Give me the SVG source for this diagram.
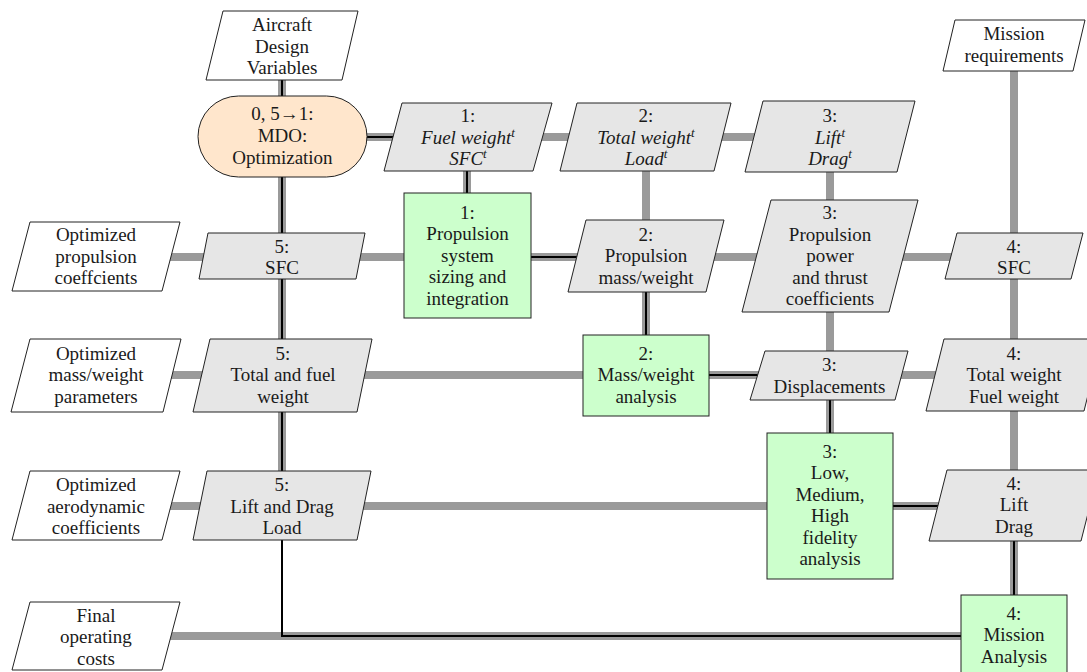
<svg xmlns="http://www.w3.org/2000/svg" width="1087" height="672" viewBox="0 0 1087 672">
<rect width="1087" height="672" fill="#fff"/>
<g id="connectors" fill="none">
<g id="data" stroke="#9a9a9a" stroke-width="8">
<path d="M282,137H830"/>
<path d="M96,257H1014"/>
<path d="M96,375H1014"/>
<path d="M96,506H1014"/>
<path d="M96,636H1014"/>
<path d="M282,45V506"/>
<path d="M467,137V257"/>
<path d="M646,137V375"/>
<path d="M830,137V506"/>
<path d="M1014,45V636"/>
</g>
<g id="process" stroke="#000" stroke-width="2">
<path d="M282,45V636H1014V506H830V375H646V257H467V137H282"/>
</g>
</g>
<g id="nodes" font-family="Liberation Serif" font-size="19" fill="#1a1a1a" text-anchor="middle">
<g id="n-aircraft"><polygon fill="#fff" stroke="#222" points="223,11 358,11 342,80 206,80"/><text x="282" y="31">Aircraft</text><text x="282" y="52.5">Design</text><text x="282" y="74">Variables</text></g>
<g id="n-mission-req"><polygon fill="#fff" stroke="#222" points="955,20 1085,20 1073,71 943,71"/><text x="1014" y="40">Mission</text><text x="1014" y="61.5">requirements</text></g>
<g id="n-mdo"><rect fill="#ffe6cc" stroke="#222" x="198" y="96" width="169" height="81" rx="40.5" ry="40.5"/><text x="282.5" y="120">0, 5→1:</text><text x="282.5" y="142">MDO:</text><text x="282.5" y="163.5">Optimization</text></g>
<g id="n-fuel-t"><polygon fill="#e6e6e6" stroke="#222" points="402,103 552,103 533,171 384,171"/><text x="468" y="122">1:</text><text font-style="italic" x="468" y="143.5">Fuel weight<tspan font-size="13" dy="-7">t</tspan></text><text font-style="italic" x="468" y="165">SFC<tspan font-size="13" dy="-7">t</tspan></text></g>
<g id="n-total-t"><polygon fill="#e6e6e6" stroke="#222" points="577,103 731,103 714,171 560,171"/><text x="646" y="122">2:</text><text font-style="italic" x="646" y="143.5">Total weight<tspan font-size="13" dy="-7">t</tspan></text><text font-style="italic" x="646" y="165">Load<tspan font-size="13" dy="-7">t</tspan></text></g>
<g id="n-lift-t"><polygon fill="#e6e6e6" stroke="#222" points="763,101 915,101 897,172 745,172"/><text x="830" y="122">3:</text><text font-style="italic" x="830" y="143.5">Lift<tspan font-size="13" dy="-7">t</tspan></text><text font-style="italic" x="830" y="165">Drag<tspan font-size="13" dy="-7">t</tspan></text></g>
<g id="n-opt-prop"><polygon fill="#fff" stroke="#222" points="30,222 180,222 162,291 12,291"/><text x="96" y="241">Optimized</text><text x="96" y="262.5">propulsion</text><text x="96" y="284">coeffcients</text></g>
<g id="n-sfc5"><polygon fill="#e6e6e6" stroke="#222" points="208,233 365,233 356,279 199,279"/><text x="282" y="252.5">5:</text><text x="282" y="274">SFC</text></g>
<g id="n-prop-sys"><rect fill="#ccffcc" stroke="#222" x="404" y="193" width="127" height="125"/><text x="467.5" y="218.5">1:</text><text x="467.5" y="240">Propulsion</text><text x="467.5" y="261.5">system</text><text x="467.5" y="283">sizing and</text><text x="467.5" y="304.5">integration</text></g>
<g id="n-prop-mass"><polygon fill="#e6e6e6" stroke="#222" points="586,220 724,220 706,292 568,292"/><text x="646" y="240.5">2:</text><text x="646" y="262">Propulsion</text><text x="646" y="283.5">mass/weight</text></g>
<g id="n-prop-power"><polygon fill="#e6e6e6" stroke="#222" points="771,200 918,200 889,312 742,312"/><text x="830" y="219">3:</text><text x="830" y="240.5">Propulsion</text><text x="830" y="262">power</text><text x="830" y="283.5">and thrust</text><text x="830" y="305">coefficients</text></g>
<g id="n-sfc4"><polygon fill="#e6e6e6" stroke="#222" points="957,233 1083,233 1071,279 945,279"/><text x="1014" y="252.5">4:</text><text x="1014" y="274">SFC</text></g>
<g id="n-opt-mass"><polygon fill="#fff" stroke="#222" points="30,339 181,339 163,412 11,412"/><text x="96" y="359.5">Optimized</text><text x="96" y="381">mass/weight</text><text x="96" y="402.5">parameters</text></g>
<g id="n-total5"><polygon fill="#e6e6e6" stroke="#222" points="210,339 372,339 357,412 193,412"/><text x="283" y="359.5">5:</text><text x="283" y="381">Total and fuel</text><text x="283" y="402.5">weight</text></g>
<g id="n-mass-an"><rect fill="#ccffcc" stroke="#222" x="583" y="335" width="126" height="81"/><text x="646" y="359.5">2:</text><text x="646" y="381">Mass/weight</text><text x="646" y="402.5">analysis</text></g>
<g id="n-displ"><polygon fill="#e6e6e6" stroke="#222" points="765,351 908,351 895,400 750,400"/><text x="829.5" y="371">3:</text><text x="829.5" y="392.5">Displacements</text></g>
<g id="n-total4"><polygon fill="#e6e6e6" stroke="#222" points="944,339 1102,339 1084,411 926,411"/><text x="1014" y="359.5">4:</text><text x="1014" y="381">Total weight</text><text x="1014" y="402.5">Fuel weight</text></g>
<g id="n-opt-aero"><polygon fill="#fff" stroke="#222" points="30,471 180,471 162,540 12,540"/><text x="96" y="491">Optimized</text><text x="96" y="512.5">aerodynamic</text><text x="96" y="534">coefficients</text></g>
<g id="n-lift5"><polygon fill="#e6e6e6" stroke="#222" points="207,471 371,471 357,540 193,540"/><text x="282" y="491">5:</text><text x="282" y="512.5">Lift and Drag</text><text x="282" y="534">Load</text></g>
<g id="n-fidelity"><rect fill="#ccffcc" stroke="#222" x="767" y="433" width="126" height="146"/><text x="830" y="457.5">3:</text><text x="830" y="479">Low,</text><text x="830" y="500.5">Medium,</text><text x="830" y="522">High</text><text x="830" y="543.5">fidelity</text><text x="830" y="565">analysis</text></g>
<g id="n-lift4"><polygon fill="#e6e6e6" stroke="#222" points="947,470 1099,470 1081,541 929,541"/><text x="1014" y="489.5">4:</text><text x="1014" y="511">Lift</text><text x="1014" y="532.5">Drag</text></g>
<g id="n-final"><polygon fill="#fff" stroke="#222" points="30,602 180,602 162,670 12,670"/><text x="96" y="621.5">Final</text><text x="96" y="643">operating</text><text x="96" y="664.5">costs</text></g>
<g id="n-mission-an"><rect fill="#ccffcc" stroke="#222" x="961" y="595" width="106" height="81"/><text x="1014" y="619.5">4:</text><text x="1014" y="641">Mission</text><text x="1014" y="662.5">Analysis</text></g>
</g>
</svg>
